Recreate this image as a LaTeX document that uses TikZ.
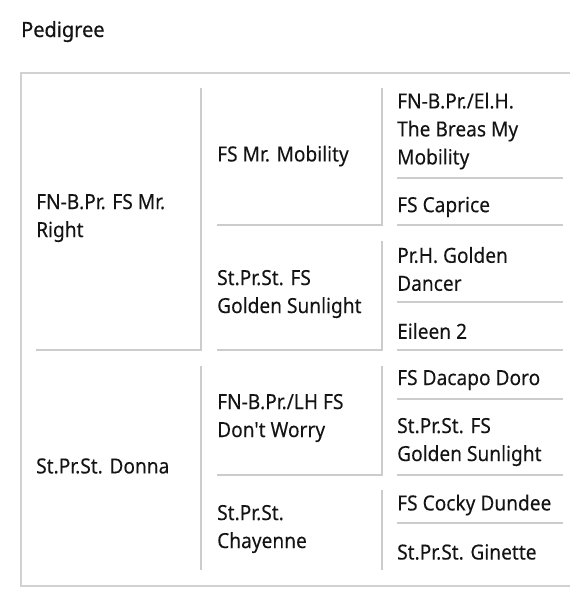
\documentclass[tikz,border=0pt]{standalone}
\usepackage{fontspec}
\setmainfont[FakeStretch=0.92, FakeBold=0.12, Ligatures=TeXOff]{Noto Sans}
\newfontfamily\headfont[FakeStretch=0.95, FakeBold=0.5]{Noto Sans}
\begin{document}
\begin{tikzpicture}[x=1pt,y=-1pt,
  rule/.style={draw=black!20, line width=1.3pt},
  outerframe/.style={draw=black!18, line width=1.3pt},
  horse/.style={anchor=west, align=left, inner sep=0pt, text=black!92,
    font=\fontsize{20.8}{28}\selectfont},
  headline/.style={anchor=base west, inner sep=0pt, text=black!92,
    font=\headfont\fontsize{21}{24}\selectfont}]
\useasboundingbox (0,0) rectangle (570,600);
% title
\node[headline] (ttl) at (21,37) {Pedigree};
% outer frame
\draw[outerframe] (570,73) -- (21,73) -- (21,586) -- (570,586);
% column 1
\draw[rule] (36,350) -- (201,350) -- (201,88);
\draw[rule] (201,366) -- (201,570);
% column 2
\draw[rule] (217,225) -- (382,225) -- (382,88);
\draw[rule] (217,350) -- (382,350) -- (382,241);
\draw[rule] (217,475) -- (382,475) -- (382,366);
\draw[rule] (382,490) -- (382,570);
% column 3
\foreach \y in {178,225,302,350,399,475,523}
  \draw[rule] (397,\y) -- (563,\y);
% names, column 1
\node[horse] (s) at (36,218) {FN-B.Pr. FS Mr.\\Right};
\node[horse] (d) at (36,466) {St.Pr.St. Donna};
% column 2
\node[horse] (ss) at (217,156) {FS Mr. Mobility};
\node[horse] (sd) at (217,294) {St.Pr.St. FS\\Golden Sunlight};
\node[horse] (ds) at (217,418) {FN-B.Pr./LH FS\\Don't Worry};
\node[horse] (dd) at (217,529) {St.Pr.St.\\Chayenne};
% column 3
\node[horse] (sss) at (397,131) {FN-B.Pr./El.H.\\The Breas My\\Mobility};
\node[horse] (ssd) at (397,207) {FS Caprice};
\node[horse] (sds) at (397,269) {Pr.H. Golden\\Dancer};
\node[horse] (sdd) at (397,331) {Eileen 2};
\node[horse] (dss) at (397,380) {FS Dacapo Doro};
\node[horse] (dsd) at (397,442) {St.Pr.St. FS\\Golden Sunlight};
\node[horse] (dds) at (397,505) {FS Cocky Dundee};
\node[horse] (ddd) at (397,552) {St.Pr.St. Ginette};
\end{tikzpicture}
\end{document}
